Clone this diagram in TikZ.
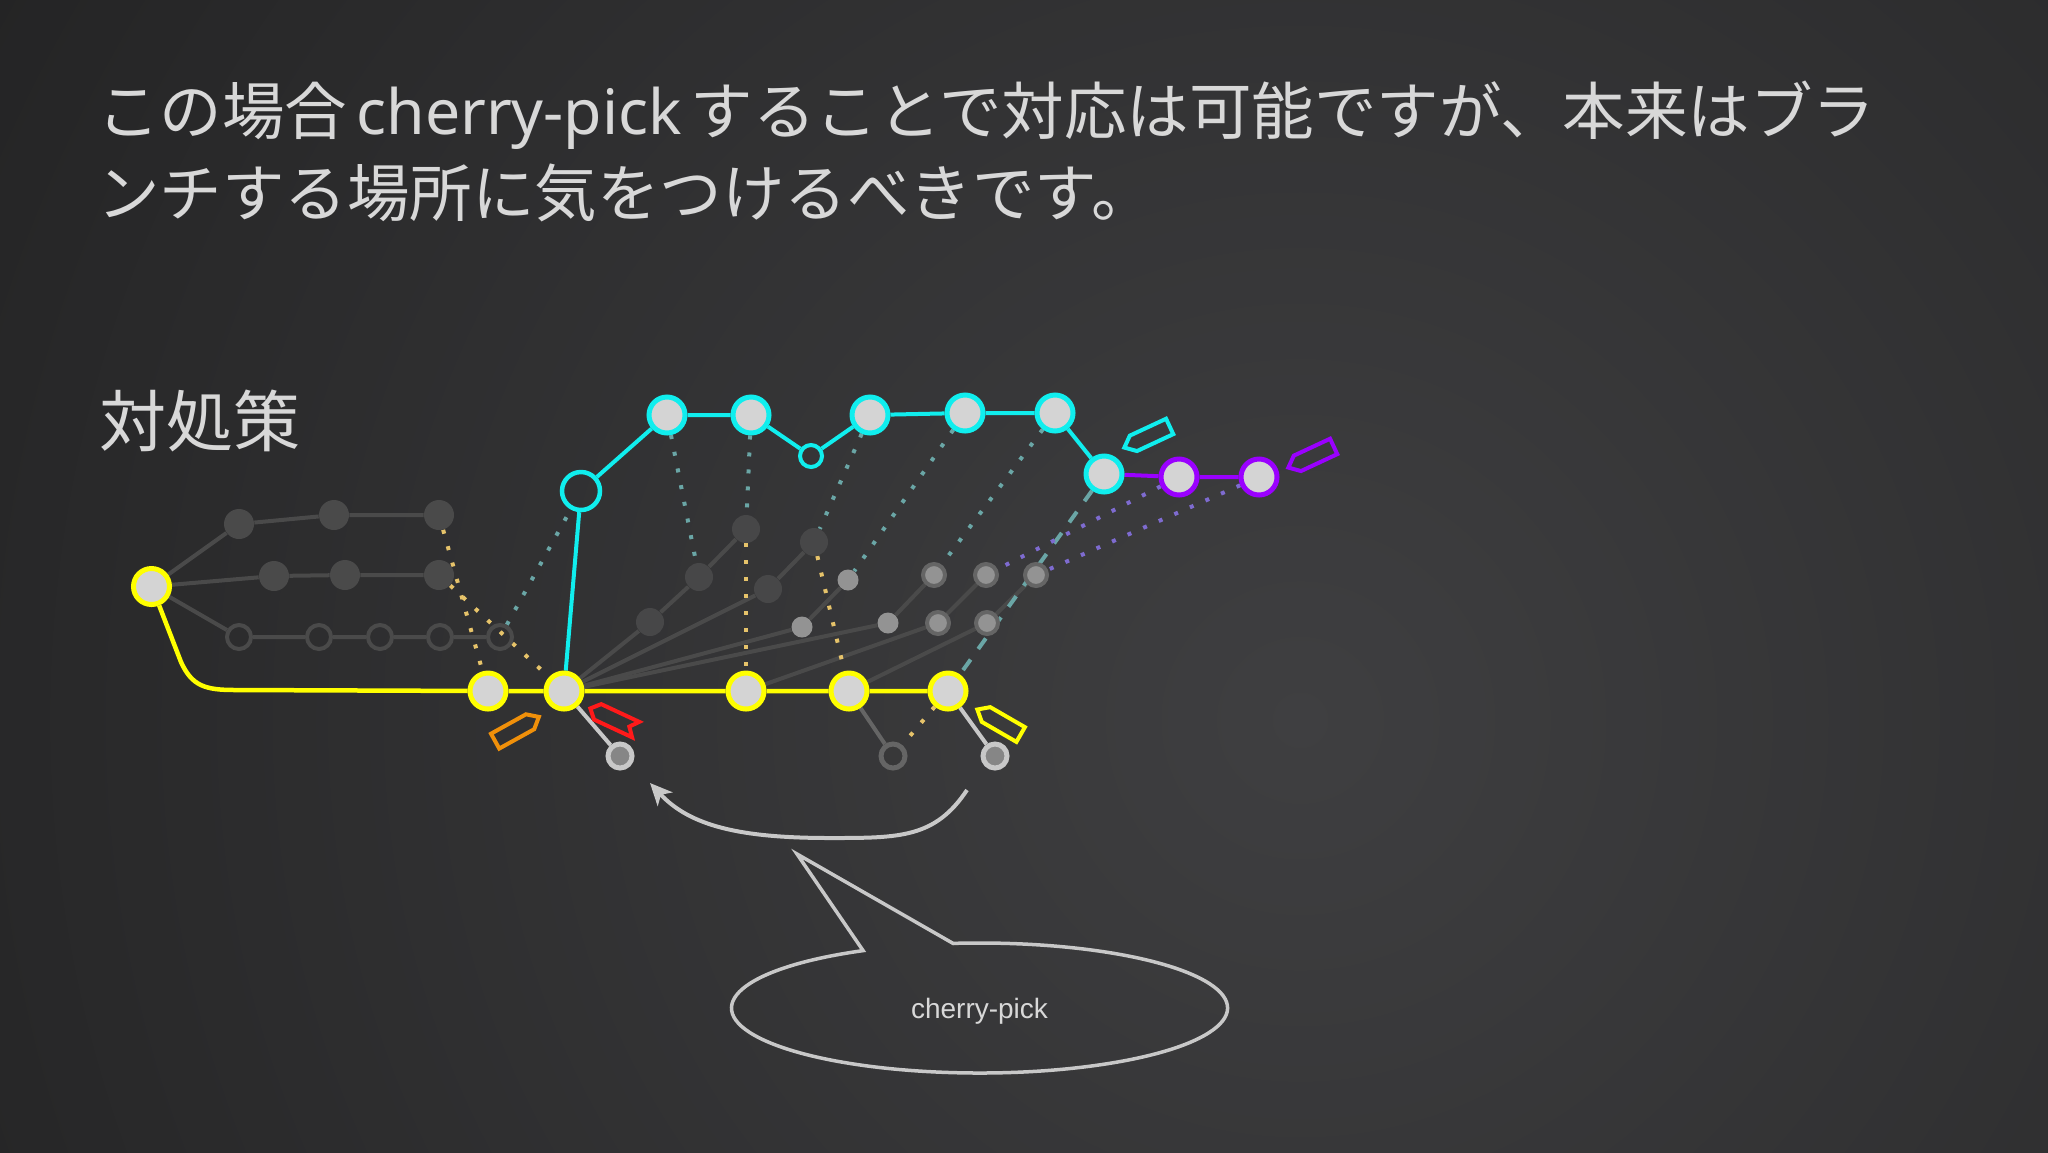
\documentclass[tikz,border=0pt]{standalone}
\usepackage{fontspec}
\newfontfamily\jpf{Noto Sans CJK JP}
\newfontfamily\latf{Noto Sans}
\newfontfamily\helv{Liberation Sans}
\usetikzlibrary{arrows.meta}
\definecolor{bgdark}{HTML}{121212}
\definecolor{bglight}{HTML}{3F3F41}
\definecolor{txt}{HTML}{D8D8D8}
\definecolor{yel}{HTML}{FFFF00}
\definecolor{cyn}{HTML}{10EEEE}
\definecolor{pur}{HTML}{9A00FF}
\definecolor{orng}{HTML}{F0900A}
\definecolor{redc}{HTML}{FF1A1A}
\definecolor{nfill}{HTML}{D4D4D4}
\definecolor{gl}{HTML}{4A4A4A}
\definecolor{ydc}{HTML}{E6C36A}
\definecolor{cdc}{HTML}{6AA6A6}
\definecolor{pdc}{HTML}{7E6BD0}
\definecolor{lgr}{HTML}{C8C8C8}
\pgfdeclarelayer{bgl}
\pgfdeclarelayer{edges}
\pgfsetlayers{bgl,edges,main}
\tikzset{
  ttl/.style={font=\jpf\fontsize{31.25pt}{37pt}\selectfont, text=txt, inner sep=0, anchor=base west},
  ynd/.style={circle, draw=yel, line width=2.5pt, fill=nfill, minimum size=18pt, inner sep=0},
  cnd/.style={circle, draw=cyn, line width=2.5pt, fill=nfill, minimum size=18pt, inner sep=0},
  pnd/.style={circle, draw=pur, line width=2.5pt, fill=nfill, minimum size=18pt, inner sep=0},
  chol/.style={circle, draw=cyn, line width=2.25pt, minimum size=19pt, inner sep=0},
  csml/.style={circle, draw=cyn, line width=2pt, minimum size=11pt, inner sep=0},
  dkf/.style={circle, fill=gl, minimum size=15pt, inner sep=0},
  dkh/.style={circle, draw=gl, line width=2pt, minimum size=12pt, inner sep=0},
  fdk/.style={circle, fill=gl!75!bglight, minimum size=14pt, inner sep=0},
  flt/.style={circle, fill=gray!85!white, minimum size=10.5pt, inner sep=0},
  frg/.style={circle, fill=gray!85!white, draw=gl!85!white, line width=2pt, minimum size=11pt, inner sep=0},
  kli/.style={circle, fill=gray!95!white, draw=lgr, line width=2.5pt, minimum size=12pt, inner sep=0},
  kho/.style={circle, draw=gl!85!white, line width=2.5pt, minimum size=12pt, inner sep=0},
  gln/.style={draw=gl, line width=2pt},
  yln/.style={draw=yel, line width=2.25pt},
  cln/.style={draw=cyn, line width=2pt},
  pln/.style={draw=pur, line width=2pt},
  ydt/.style={draw=ydc, line width=2pt, dash pattern=on 2pt off 6.5pt},
  cdt/.style={draw=cdc, line width=2pt, dash pattern=on 2pt off 6.5pt},
  pdt/.style={draw=pdc, line width=2pt, dash pattern=on 2pt off 6.5pt},
  cds/.style={draw=cdc, line width=2pt, dash pattern=on 6.5pt off 6.5pt},
  arrw/.style={draw=lgr, line width=2pt, -{Stealth[length=11pt,width=10pt,inset=3pt]}},
  bubl/.style={draw=lgr, line width=1.75pt, line join=miter},
  tagpent/.pic={\path[pic actions] (-25,-8.5) -- (15,-8.5) -- (25,0) -- (15,8.5) -- (-25,8.5) -- cycle;},
  tagflag/.pic={\path[pic actions] (-25,0) -- (-17,-8.5) -- (25,-8.5) -- (18,0) -- (25,8.5) -- (-17,8.5) -- cycle;},
}
\begin{document}
\begin{tikzpicture}[x=0.5pt,y=-0.5pt]
\useasboundingbox (0,0) rectangle (2048,1152);
\begin{pgfonlayer}{bgl}
\fill[bgdark] (0,0) rectangle (2048,1152);
\begin{scope}
\clip (0,0) rectangle (2048,1152);
\shade[inner color=bglight, outer color=bgdark] (1300,720) circle (2500);
\end{scope}
\end{pgfonlayer}

% titles
\node[ttl] (ttlA) at (97,134.7) {この場合\hspace{4.5pt}{\latf cherry-pick}\hspace{4.5pt}することで対応は可能ですが、本来はブラ};
\node[ttl] (ttlB) at (97,216.4) {ンチする場所に気をつけるべきです。};
\node[ttl, font=\jpf\fontsize{33.5pt}{40pt}\selectfont] (head) at (99,446.5) {対処策};

% left gray graph
\node[ynd] (root) at (151.5,586.5) {};
\node[dkf] (t1) at (239,524) {};
\node[dkf] (t2) at (334,515) {};
\node[dkf] (t3) at (439,515) {};
\node[dkf] (m1) at (274,576) {};
\node[dkf] (m2) at (345,575) {};
\node[dkf] (m3) at (439,575) {};
\node[dkh] (b1) at (239,637) {};
\node[dkh] (b2) at (319,637) {};
\node[dkh] (b3) at (380,637) {};
\node[dkh] (b4) at (440,637) {};
\node[dkh] (b5) at (500,637) {};

% yellow main line
\node[ynd] (y1) at (488,691) {};
\node[ynd] (y2) at (564,691) {};
\node[ynd] (y3) at (746,691) {};
\node[ynd] (y4) at (849,691) {};
\node[ynd] (y5) at (948,691) {};

% cyan branch
\node[chol] (ch) at (581,491) {};
\node[cnd] (c1) at (667,415) {};
\node[cnd] (c2) at (751,415) {};
\node[csml] (cs) at (811,456) {};
\node[cnd] (c3) at (870,415) {};
\node[cnd] (c4) at (965,413) {};
\node[cnd] (c5) at (1055,413) {};
\node[cnd] (cr) at (1104,474) {};
\node[pnd] (p1) at (1179,477) {};
\node[pnd] (p2) at (1259,477) {};

% fan of faded nodes
\node[fdk] (fa) at (746,529) {};
\node[fdk] (fb) at (699,577) {};
\node[fdk] (fc) at (650,622) {};
\node[fdk] (fd) at (814,542) {};
\node[fdk] (fe) at (768,589) {};
\node[flt] (ff) at (848,580) {};
\node[flt] (fg) at (802,627) {};
\node[frg] (fh) at (934,575) {};
\node[flt] (fi) at (888,623) {};
\node[frg] (fj) at (986,575) {};
\node[frg] (fk) at (938,623) {};
\node[frg] (fl) at (987,623) {};
\node[frg] (fm) at (1036,575) {};

% children below
\node[kli] (k1) at (620,756) {};
\node[kho] (k2) at (893,756) {};
\node[kli] (k3) at (995,756) {};

\begin{pgfonlayer}{edges}
\draw[gln] (root) -- (t1) -- (t2) -- (t3);
\draw[gln] (root) -- (m1) -- (m2) -- (m3);
\draw[gln] (root) -- (b1) -- (b2) -- (b3) -- (b4) -- (b5);
\draw[gln] (y2) -- (fc) -- (fb) -- (fa);
\draw[gln] (y2) -- (fe) -- (fd);
\draw[gln] (y2) -- (fg) -- (ff);
\draw[gln] (y2) -- (fi) -- (fh);
\draw[gln] (y3) -- (fk) -- (fj);
\draw[gln] (y4) -- (fl) -- (fm);
\draw[draw=lgr, line width=2pt] (y2) -- (k1);
\draw[draw=gl!85!white, line width=2pt] (y4) -- (k2);
\draw[draw=lgr, line width=2pt] (y5) -- (k3);
\draw[yln] (root.-68) -- (181,662) .. controls (192,686) and (205,690) .. (235,690) -- (y1) -- (y2) -- (y3) -- (y4) -- (y5);
\draw[cln] (y2) -- (ch) -- (c1) -- (c2) -- (cs) -- (c3) -- (c4) -- (c5) -- (cr);
\draw[pln] (cr) -- (p1) -- (p2);
\draw[ydt] (t3) -- (y1);
\draw[ydt] (m3) -- (y2);
\draw[ydt] (fa) -- (y3);
\draw[ydt] (fd) -- (y4);
\draw[ydt] (y5) -- (k2);
\draw[cdt] (b5) -- (ch);
\draw[cdt] (c1) -- (fb);
\draw[cdt] (c2) -- (fa);
\draw[cdt] (c3) -- (fd);
\draw[cdt] (c4) -- (ff);
\draw[cdt] (c5) -- (fh);
\draw[cds] (cr) -- (y5);
\draw[pdt] (p1) -- (fj);
\draw[pdt] (p2) -- (fm);
\end{pgfonlayer}

% branch tags
\pic[draw=orng, line width=2pt, line join=miter, rotate=29] at (517,729) {tagpent};
\pic[draw=redc, line width=2pt, line join=miter, rotate=-25] at (613,719) {tagflag};
\pic[draw=yel, line width=2pt, line join=miter, rotate=150] at (999,722) {tagpent};
\pic[draw=cyn, line width=2pt, line join=miter, rotate=205] at (1147,437) {tagpent};
\pic[draw=pur, line width=2pt, line join=miter, rotate=205] at (1311,457) {tagpent};

% cherry-pick arrow
\coordinate (arrS) at (967,790);
\coordinate (arrE) at (650,783);
\draw[arrw] (arrS) .. controls (935,838) and (900,838) .. (830,838) .. controls (740,838) and (690,826) .. (arrE);

% speech bubble
\node[font=\helv\fontsize{14pt}{16pt}\selectfont, text=txt, inner sep=0] (bub) at (979.5,1011) {cherry-pick};
\coordinate (tip) at (797,854);
\coordinate (bL) at (863.1,950.6);
\coordinate (bR) at (953.1,943.4);
\draw[bubl] (bR) -- (tip) -- (bL) arc[start angle=118, end angle=456.1, x radius=124pt, y radius=32.5pt] -- cycle;
\end{tikzpicture}
\end{document}
